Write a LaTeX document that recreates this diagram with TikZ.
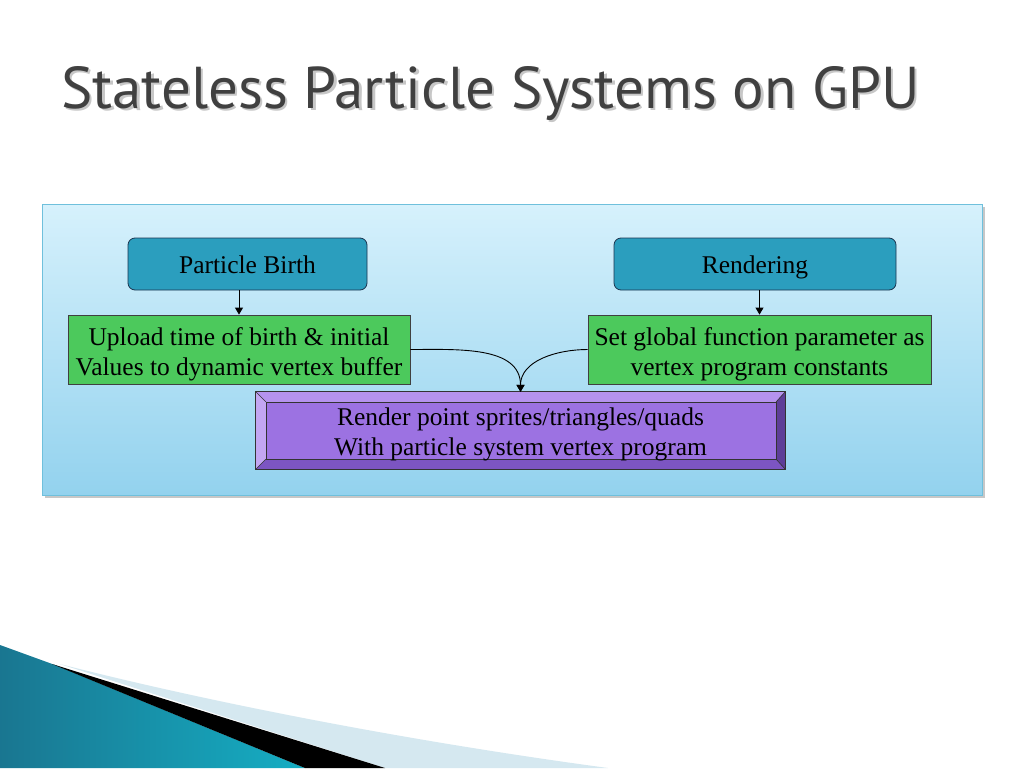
\documentclass[tikz,border=0pt]{standalone}
\usepackage{fontspec}
\setmainfont{Liberation Serif}
\newfontfamily\titlefont{PT Sans}
\usetikzlibrary{arrows.meta,calc}
\definecolor{panelTop}{HTML}{D6F1FC}
\definecolor{panelBot}{HTML}{93D2EE}
\definecolor{panelEdge}{HTML}{6FC0DC}
\definecolor{tealbox}{HTML}{2B9EBE}
\definecolor{tealedge}{HTML}{1C3550}
\definecolor{greenbox}{HTML}{4CC95C}
\definecolor{purpface}{HTML}{9C72E2}
\definecolor{purpTop}{HTML}{B593EE}
\definecolor{purpLeft}{HTML}{C3A6F2}
\definecolor{purpBot}{HTML}{7C55C2}
\definecolor{purpRight}{HTML}{5E3E98}
\definecolor{titlegray}{HTML}{404040}
\definecolor{decoTeal}{HTML}{1E8BAA}
\definecolor{decoLight}{HTML}{D5E8F0}
\tikzset{
  tealnode/.style={draw=tealedge, fill=tealbox, rounded corners=7pt, line width=0.8pt,
    font=\fontsize{25.5}{30}\selectfont, text height=22pt, text depth=3pt},
  greennode/.style={draw=black!75, fill=greenbox, line width=0.8pt},
  boxtext/.style={align=center, font=\fontsize{25.5}{30}\selectfont, inner sep=0pt},
  conn/.style={line width=0.9pt, -{Triangle[length=7pt,width=8pt]}},
}
\newcommand{\ttltext}{Stateless Particle Systems on GPU}
\begin{document}
\begin{tikzpicture}[x=1pt,y=-1pt]
\useasboundingbox (0,0) rectangle (1024,768);
\fill[white] (0,0) rectangle (1024,768);

% title (with shadow in the same node)
\node (title) [text=titlegray, anchor=base west, inner sep=0pt, font=\titlefont\fontsize{59}{62}\selectfont] at (61,108)
  {\rlap{\hspace{2.5pt}\raisebox{-2.5pt}{\textcolor{black!22}{\ttltext}}}\ttltext};

% panel
\fill[black!22] (45,207) rectangle (985,498);
\draw[panelEdge, line width=0.8pt, top color=panelTop, bottom color=panelBot] (42,204) rectangle (982,495);

% nodes
\node (pb) [tealnode, minimum width=239pt, minimum height=52pt] at (247.5,264) {Particle Birth};
\node (rd) [tealnode, minimum width=282pt, minimum height=52pt] at (755,264) {Rendering};
\node (up) [greennode, minimum width=342pt, minimum height=69pt] at (239,349.5) {};
\node (upt) [boxtext] at ($(up.center)+(0,4.5)$) {Upload time of birth \& initial\\Values to dynamic vertex buffer};
\node (sg) [greennode, minimum width=343pt, minimum height=69pt] at (759.5,349.5) {};
\node (sgt) [boxtext] at ($(sg.center)+(0,4.5)$) {Set global function parameter as\\vertex program constants};

% bevel purple box
\node (rp) [minimum width=529pt, minimum height=77pt, inner sep=0pt] at (520.5,430.5) {};
\fill[purpTop] (rp.north west) -- (rp.north east) -- ($(rp.north east)+(-9,10)$) -- ($(rp.north west)+(10,10)$) -- cycle;
\fill[purpLeft] (rp.north west) -- ($(rp.north west)+(10,10)$) -- ($(rp.south west)+(10,-10)$) -- (rp.south west) -- cycle;
\fill[purpBot] (rp.south west) -- ($(rp.south west)+(10,-10)$) -- ($(rp.south east)+(-9,-10)$) -- (rp.south east) -- cycle;
\fill[purpRight] (rp.north east) -- (rp.south east) -- ($(rp.south east)+(-9,-10)$) -- ($(rp.north east)+(-9,10)$) -- cycle;
\fill[purpface] ($(rp.north west)+(10,10)$) rectangle ($(rp.south east)+(-9,-10)$);
\draw[black!80, line width=0.8pt] (rp.north west) rectangle (rp.south east);
\draw[black!80, line width=0.6pt] ($(rp.north west)+(10,10)$) rectangle ($(rp.south east)+(-9,-10)$);
\draw[black!80, line width=0.6pt] (rp.north west) -- ($(rp.north west)+(10,10)$)
  (rp.north east) -- ($(rp.north east)+(-9,10)$)
  (rp.south west) -- ($(rp.south west)+(10,-10)$)
  (rp.south east) -- ($(rp.south east)+(-9,-10)$);
\node (rpt) [boxtext] at ($(rp.center)+(0,3.5)$) {Render point sprites/triangles/quads\\With particle system vertex program};

% connectors
\draw[conn] (pb.south -| up.north) -- (up.north);
\draw[conn] (rd.south -| sg.north) -- (sg.north);
\draw[conn] (up.east) to[out=0, in=90] (rp.north);
\draw[conn] (sg.west) to[out=180, in=90] (rp.north);

% bottom-left decoration
\shade[left color=decoTeal!85!black, right color=decoTeal!70!cyan] (0,645) -- (55,665) -- (305,768) -- (0,768) -- cycle;
\fill[decoLight] (60,664) .. controls (200,700) and (400,740) .. (608,768) -- (385,768) -- cycle;
\fill[black] (52,664) -- (385,768) -- (305,768) -- cycle;
\end{tikzpicture}
\end{document}
